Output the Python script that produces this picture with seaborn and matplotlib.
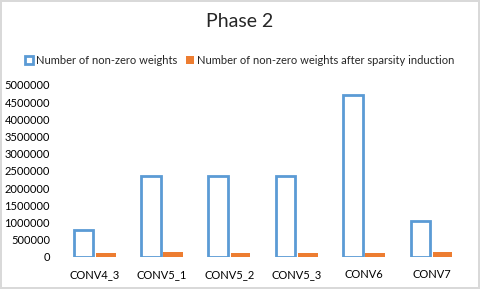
import pandas as pd
import seaborn as sns
from matplotlib import pyplot as plt
from matplotlib.colors import to_hex
from matplotlib.ticker import FuncFormatter

layers = ["CONV4_3", "CONV5_1", "CONV5_2", "CONV5_3", "CONV6", "CONV7"]
nonzero = [786432, 2359296, 2359296, 2359296, 4718592, 1048576]
nonzero_sparse = [110000, 140000, 110000, 105000, 105000, 140000]
series = ["Number of non-zero weights",
          "Number of non-zero weights after sparsity induction"]
colors = ["#5B9BD5", "#ED7D31"]

df = pd.DataFrame({
    "layer": layers * 2,
    "value": nonzero + nonzero_sparse,
    "series": [series[0]] * len(layers) + [series[1]] * len(layers),
})

sns.set_style("white")
plt.rcParams["font.family"] = ["Lato", "DejaVu Sans"]

fig = plt.figure(figsize=(4.8, 2.89), dpi=100)
fig.patch.set_edgecolor("#D9D9D9")
fig.patch.set_linewidth(1.5)
ax = fig.add_axes([0.127, 0.111, 0.842, 0.595])

sns.barplot(data=df, x="layer", y="value", hue="series", palette=colors,
            width=0.66, gap=0.12, fill=False, linewidth=2.0, ax=ax)

# the small orange bars look solid in the original
for bar in ax.patches:
    if to_hex(bar.get_edgecolor()).lower() == colors[1].lower():
        bar.set_facecolor(colors[1])
        bar.set_linewidth(0)

ax.set_ylim(0, 5000000)
ax.set_yticks(range(0, 5000001, 500000))
ax.yaxis.set_major_formatter(FuncFormatter(lambda v, p: f"{int(v)}"))
ax.set_xlabel("")
ax.set_ylabel("")
ax.tick_params(axis="both", length=0, labelsize=8, colors="#000000")
ax.tick_params(axis="y", pad=8)
ax.tick_params(axis="x", pad=9)
for s in ax.spines.values():
    s.set_visible(False)

fig.text(0.5, 0.925, "Phase 2", ha="center", va="center", fontsize=14)

handles, labels = ax.get_legend_handles_labels()
ax.legend_.remove()
fig.legend(handles, labels, loc="center", bbox_to_anchor=(0.5, 0.79),
           ncol=2, frameon=False, fontsize=8, handlelength=0.7,
           handleheight=0.7, handletextpad=0.3, columnspacing=0.8)

plt.savefig("out.png", dpi=100)
